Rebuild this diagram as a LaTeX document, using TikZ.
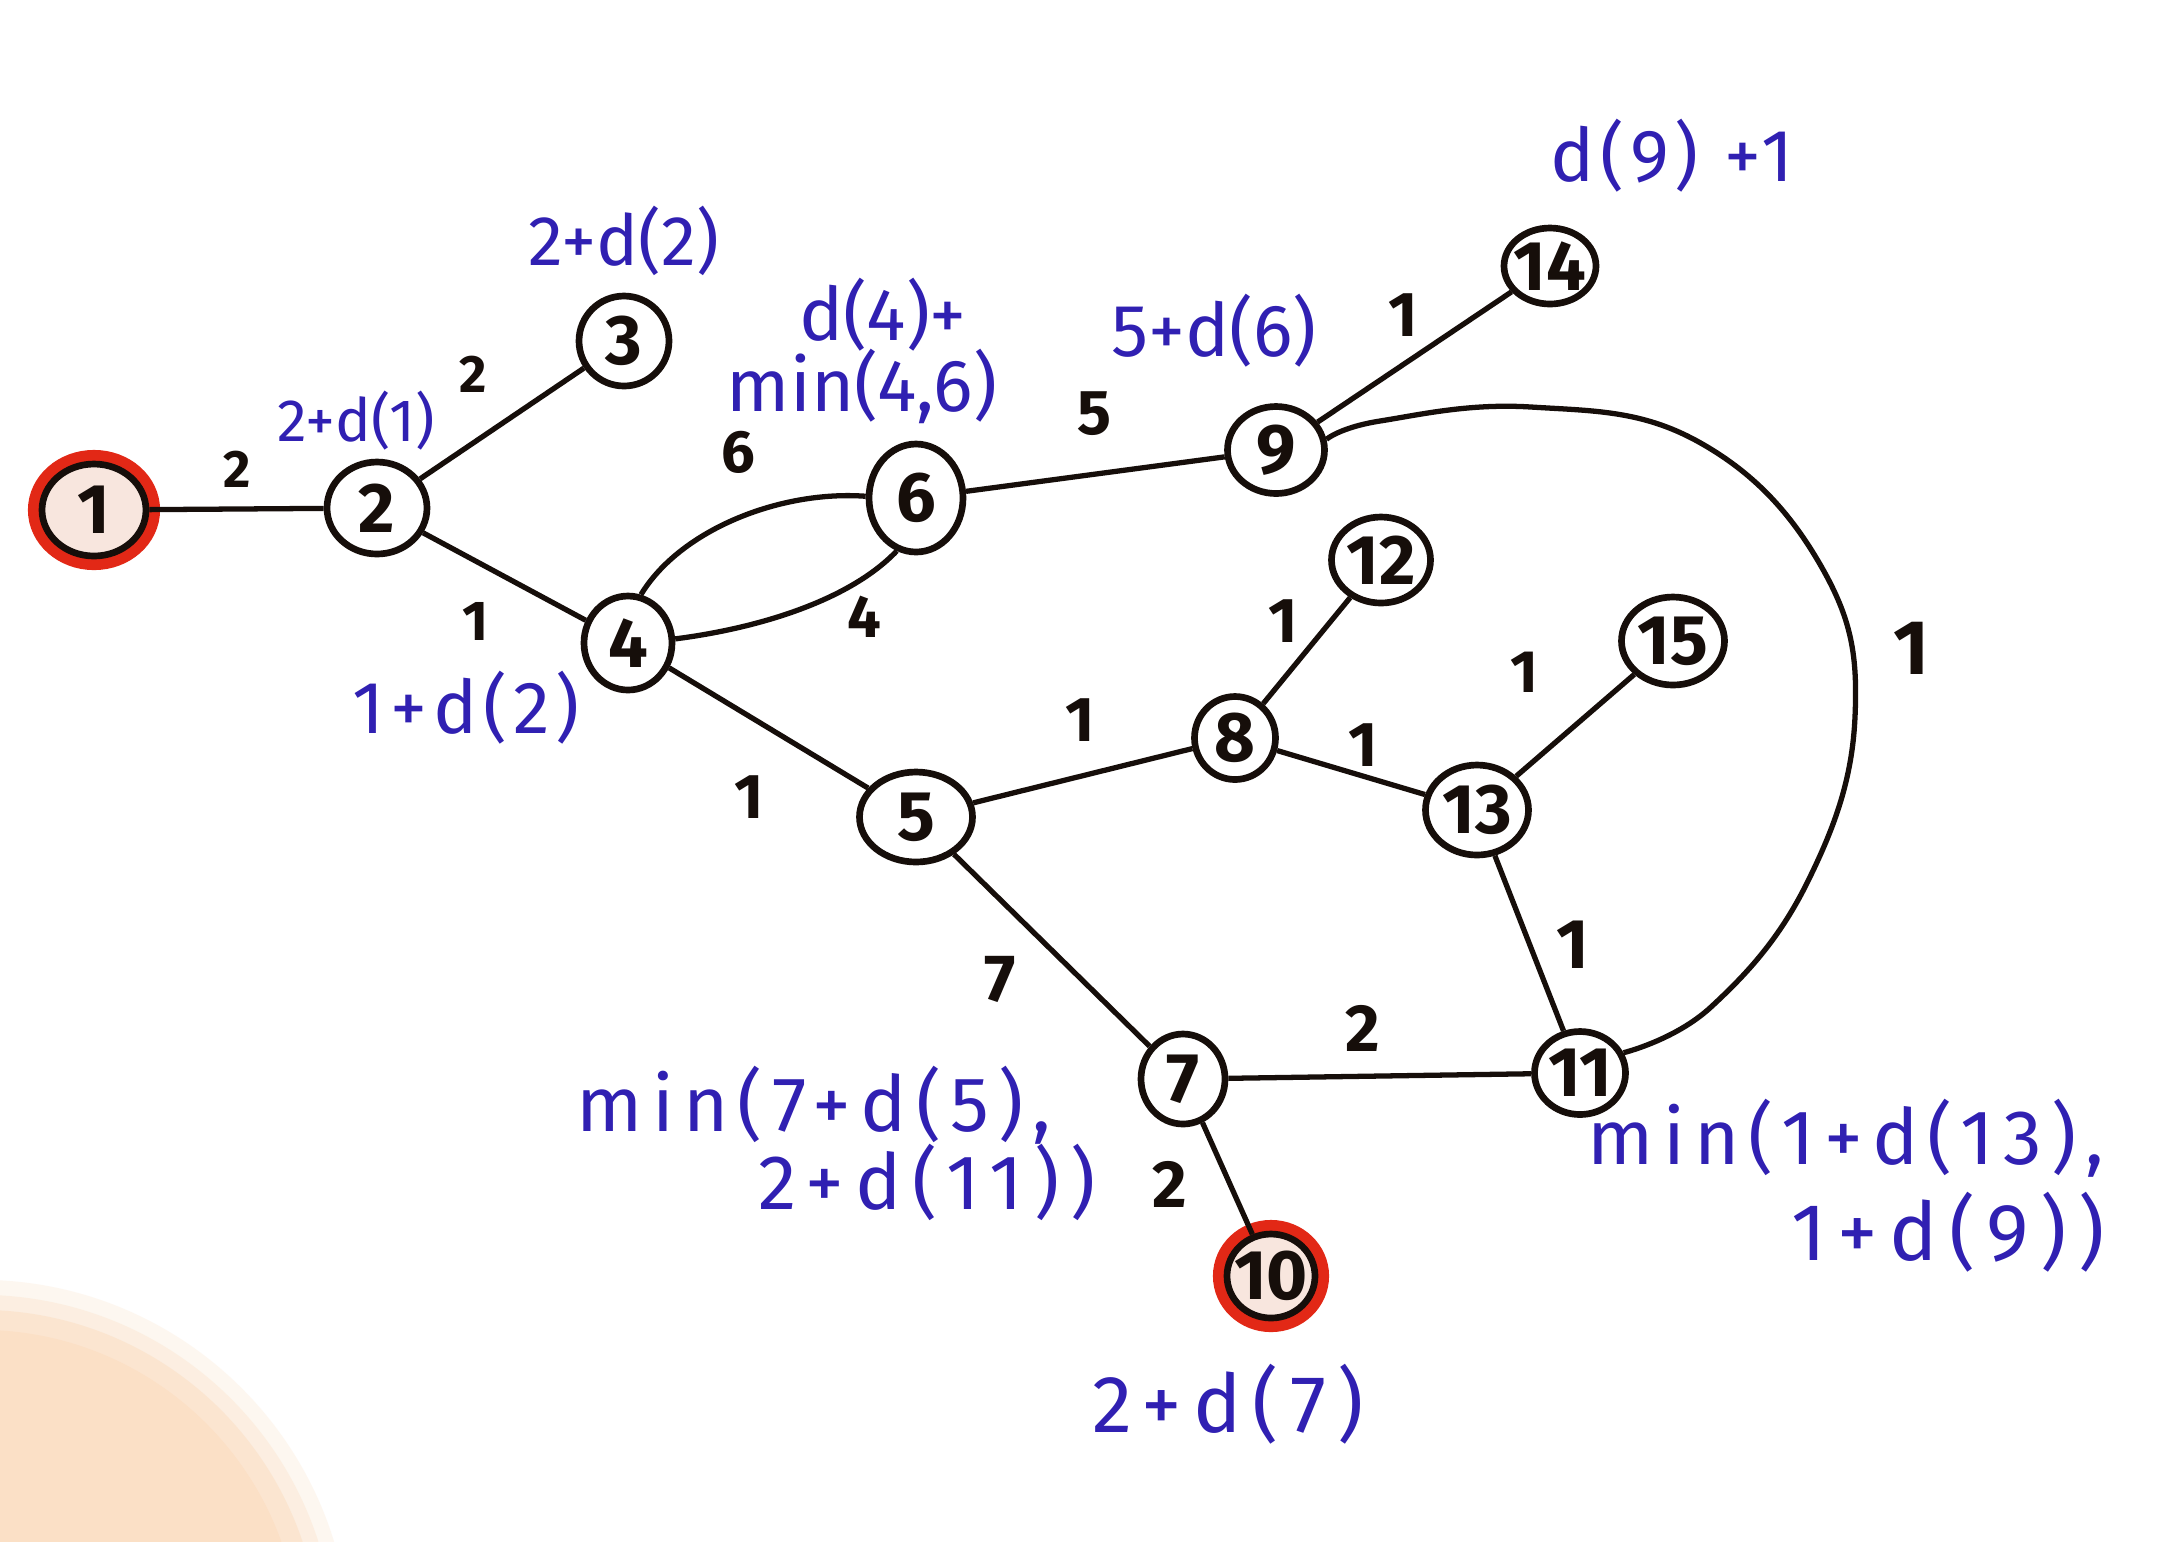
\documentclass[tikz,border=0pt]{standalone}
\usepackage{fontspec}
\setmainfont{Fira Sans}
\usetikzlibrary{shapes.geometric}
\definecolor{pen}{RGB}{48,32,178}
\definecolor{redink}{RGB}{226,40,22}
\definecolor{redfill}{RGB}{248,230,222}
\definecolor{peach}{RGB}{251,224,198}
\definecolor{ink}{RGB}{22,14,10}
\begin{document}
\begin{tikzpicture}[x=0.01cm,y=-0.01cm,
  vtx/.style 2 args={ellipse, draw=ink, line width=1.9pt, fill=white, inner sep=0pt,
    minimum width=#1*0.01cm, minimum height=#2*0.01cm},
  lbl/.style={font=\fontsize{20}{20}\selectfont\bfseries, text=ink, inner sep=0pt},
  vnum/.style={label={[lbl]center:#1}},
  src/.style={fill=redfill, preaction={draw=redink, line width=8pt}},
  edge/.style={draw=ink, line width=1.5pt},
  wt/.style={text=ink, inner sep=0pt, font=\fontsize{#1}{#1}\selectfont\bfseries},
  ann/.style={text=pen, inner sep=0pt, font=\fontsize{#1}{#1}\selectfont},
  annw/.style 2 args={text=pen, inner sep=0pt, font=\fontsize{#1}{#1}\selectfont\addfontfeature{LetterSpace=#2}}]
\clip (0,0) rectangle (2163,1541);
\fill[white] (0,0) rectangle (2163,1541);
\fill[peach, opacity=0.25] (-20,1650) circle[radius=3.7cm];
\fill[peach, opacity=0.35] (-20,1650) circle[radius=3.55cm];
\fill[peach, opacity=0.6] (-20,1650) circle[radius=3.4cm];
\fill[peach] (-20,1650) circle[radius=3.2cm];

% vertices
\node[vtx={104}{92}, src, vnum=1] (n1) at (94,510) {};
\node[vtx={100}{92}, vnum=2] (n2) at (377,508) {};
\node[vtx={90}{90}, vnum=3] (n3) at (624,341) {};
\node[vtx={88}{94}, vnum=4] (n4) at (628,643) {};
\node[vtx={113}{90}, vnum=5] (n5) at (916,817) {};
\node[vtx={94}{108}, vnum=6] (n6) at (916,498) {};
\node[vtx={84}{90}, vnum=7] (n7) at (1183,1079) {};
\node[vtx={81}{83}, vnum=8] (n8) at (1235,738) {};
\node[vtx={97}{87}, vnum=9] (n9) at (1276,450) {};
\node[vtx={88}{84}, src, vnum=10] (n10) at (1271,1276) {};
\node[vtx={91}{83}, vnum=11] (n11) at (1580,1073) {};
\node[vtx={99}{86}, vnum=12] (n12) at (1381,560) {};
\node[vtx={103}{90}, vnum=13] (n13) at (1477,810) {};
\node[vtx={92}{76}, vnum=14] (n14) at (1550,266) {};
\node[vtx={103}{88}, vnum=15] (n15) at (1673,641) {};

% edges
\draw[edge] (n1) -- (n2);
\draw[edge] (n2) -- (n3);
\draw[edge] (n2) -- (n4);
\draw[edge] (n4.75) .. controls (680,530) and (780,490) .. (n6.178);
\draw[edge] (n4.5) .. controls (760,628) and (850,600) .. (n6.250);
\draw[edge] (n6) -- (n9);
\draw[edge] (n9) -- (n14);
\draw[edge] plot[smooth, tension=0.7] coordinates {(n9.12) (1380,421) (1531,407) (1697,441) (1821,566) (1855,717) (1807,883) (1711,1007) (n11.25)};
\draw[edge] (n4) -- (n5);
\draw[edge] (n5) -- (n8);
\draw[edge] (n8) -- (n12);
\draw[edge] (n8) -- (n13);
\draw[edge] (n13) -- (n15);
\draw[edge] (n13) -- (n11);
\draw[edge] (n5) -- (n7);
\draw[edge] (n7) -- (n11);
\draw[edge] (n7) -- (n10);

% edge weights
\node[wt=15] (w12) at (237,469) {2};
\node[wt=15] (w23) at (473,374) {2};
\node[wt=16] (w24) at (476,621) {1};
\node[wt=17] (w46a) at (738,452) {6};
\node[wt=17] (w46b) at (864,617) {4};
\node[wt=18] (w69) at (1094,414) {5};
\node[wt=18] (w914) at (1403,315) {1};
\node[wt=22] (w911) at (1911,648) {1};
\node[wt=18] (w45) at (749,797) {1};
\node[wt=18] (w58) at (1080,720) {1};
\node[wt=18] (w812) at (1283,621) {1};
\node[wt=18] (w813) at (1363,745) {1};
\node[wt=17] (w1315) at (1524,672) {1};
\node[wt=20] (w1311) at (1573,945) {1};
\node[wt=19] (w57) at (1000,979) {7};
\node[wt=19] (w711) at (1363,1028) {2};
\node[wt=19] (w710) at (1170,1184) {2};

% annotations
\node[ann=20] (a3) at (624,241) {2+d(2)};
\node[ann=17] (a2) at (356,421) {2+d(1)};
\node[annw={21}{8}] (a4) at (466,708) {1+d(2)};
\node[ann=21] (a6a) at (883,315) {d(4)+};
\node[ann=21] (a6b) at (862,386) {min(4,6)};
\node[ann=21] (a9) at (1214,331) {5+d(6)};
\node[annw={21}{8}] (a14) at (1672,156) {d(9) +1};
\node[annw={22}{12}] (a7a) at (814,1105) {min(7+d(5),};
\node[annw={22}{14}] (a7b) at (927,1182) {2+d(11))};
\node[annw={22}{12}] (a11a) at (1846,1138) {min(1+d(13),};
\node[annw={23}{14}] (a11b) at (1948,1232) {1+d(9))};
\node[annw={23}{14}] (a10) at (1228,1404) {2+d(7)};
\end{tikzpicture}
\end{document}
